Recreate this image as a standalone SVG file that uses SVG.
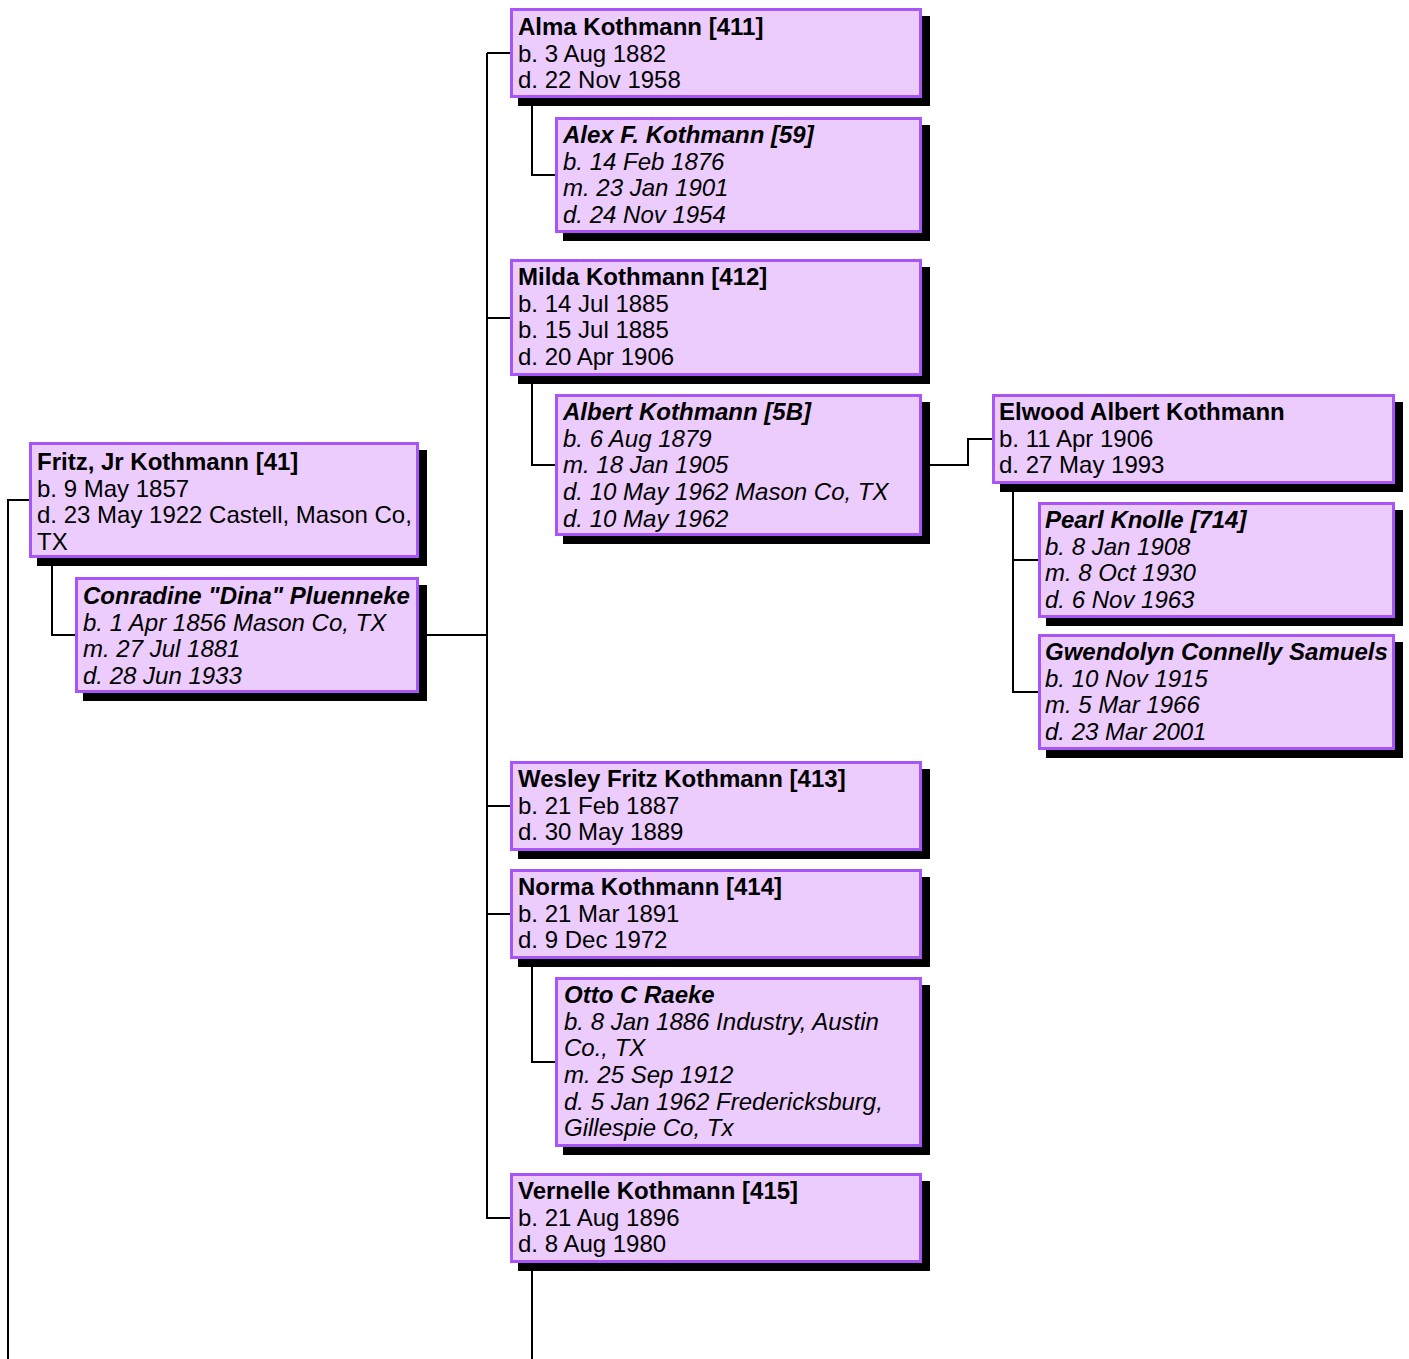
<svg xmlns="http://www.w3.org/2000/svg" width="1409" height="1359" viewBox="0 0 1409 1359">
<style>
.sh{fill:#000}
.bx{fill:#ECCCFC;stroke:#A855F7;stroke-width:3}
text{font-family:"Liberation Sans",Arial,sans-serif;font-size:24px;fill:#000}
.n{font-weight:bold}
.sp{font-style:italic}
.c{fill:none;stroke:#000;stroke-width:2}
</style>
<rect width="1409" height="1359" fill="#fff"/>
<g id="connectors">
<path class="c" d="M30 500H8V1359"/>
<path class="c" d="M52 558V635H75"/>
<path class="c" d="M419 635H487"/>
<path class="c" d="M487 53V1219"/>
<path class="c" d="M487 53H510M487 318H510M487 806H510M487 914H510M487 1218H510"/>
<path class="c" d="M532 98V175H555"/>
<path class="c" d="M532 376V465H555"/>
<path class="c" d="M922 465H968V439H992"/>
<path class="c" d="M1013 484V692H1038M1013 560H1038"/>
<path class="c" d="M532 959V1062H555"/>
<path class="c" d="M532 1263V1359"/>
</g>
<g id="fritz">
<rect class="sh" x="37" y="450" width="390" height="116"/>
<rect class="bx" x="30.5" y="443.5" width="387" height="113"/>
<text x="37" y="470"><tspan class="n">Fritz, Jr Kothmann [41]</tspan><tspan x="37" dy="26.67">b. 9 May 1857</tspan><tspan x="37" dy="26.67">d. 23 May 1922 Castell, Mason Co,</tspan><tspan x="37" dy="26.67">TX</tspan></text>
</g>
<g id="conradine">
<rect class="sh" x="83" y="585" width="344" height="116"/>
<rect class="bx" x="76.5" y="578.5" width="341" height="113"/>
<text class="sp" x="83" y="604"><tspan class="n">Conradine "Dina" Pluenneke</tspan><tspan x="83" dy="26.67">b. 1 Apr 1856 Mason Co, TX</tspan><tspan x="83" dy="26.67">m. 27 Jul 1881</tspan><tspan x="83" dy="26.67">d. 28 Jun 1933</tspan></text>
</g>
<g id="alma">
<rect class="sh" x="518" y="16" width="412" height="90"/>
<rect class="bx" x="511.5" y="9.5" width="409" height="87"/>
<text x="518" y="35"><tspan class="n">Alma Kothmann [411]</tspan><tspan x="518" dy="26.67">b. 3 Aug 1882</tspan><tspan x="518" dy="26.67">d. 22 Nov 1958</tspan></text>
</g>
<g id="alex">
<rect class="sh" x="563" y="125" width="367" height="116"/>
<rect class="bx" x="556.5" y="118.5" width="364" height="113"/>
<text class="sp" x="563" y="143"><tspan class="n">Alex F. Kothmann [59]</tspan><tspan x="563" dy="26.67">b. 14 Feb 1876</tspan><tspan x="563" dy="26.67">m. 23 Jan 1901</tspan><tspan x="563" dy="26.67">d. 24 Nov 1954</tspan></text>
</g>
<g id="milda">
<rect class="sh" x="518" y="267" width="412" height="117"/>
<rect class="bx" x="511.5" y="260.5" width="409" height="114"/>
<text x="518" y="285"><tspan class="n">Milda Kothmann [412]</tspan><tspan x="518" dy="26.67">b. 14 Jul 1885</tspan><tspan x="518" dy="26.67">b. 15 Jul 1885</tspan><tspan x="518" dy="26.67">d. 20 Apr 1906</tspan></text>
</g>
<g id="albert">
<rect class="sh" x="563" y="402" width="367" height="142"/>
<rect class="bx" x="556.5" y="395.5" width="364" height="139"/>
<text class="sp" x="563" y="420"><tspan class="n">Albert Kothmann [5B]</tspan><tspan x="563" dy="26.67">b. 6 Aug 1879</tspan><tspan x="563" dy="26.67">m. 18 Jan 1905</tspan><tspan x="563" dy="26.67">d. 10 May 1962 Mason Co, TX</tspan><tspan x="563" dy="26.67">d. 10 May 1962</tspan></text>
</g>
<g id="elwood">
<rect class="sh" x="1000" y="402" width="403" height="90"/>
<rect class="bx" x="993.5" y="395.5" width="400" height="87"/>
<text x="999" y="420"><tspan class="n">Elwood Albert Kothmann</tspan><tspan x="999" dy="26.67">b. 11 Apr 1906</tspan><tspan x="999" dy="26.67">d. 27 May 1993</tspan></text>
</g>
<g id="pearl">
<rect class="sh" x="1046" y="510" width="357" height="116"/>
<rect class="bx" x="1039.5" y="503.5" width="354" height="113"/>
<text class="sp" x="1045" y="528"><tspan class="n">Pearl Knolle [714]</tspan><tspan x="1045" dy="26.67">b. 8 Jan 1908</tspan><tspan x="1045" dy="26.67">m. 8 Oct 1930</tspan><tspan x="1045" dy="26.67">d. 6 Nov 1963</tspan></text>
</g>
<g id="gwendolyn">
<rect class="sh" x="1046" y="642" width="357" height="116"/>
<rect class="bx" x="1039.5" y="635.5" width="354" height="113"/>
<text class="sp" x="1045" y="660"><tspan class="n">Gwendolyn Connelly Samuels</tspan><tspan x="1045" dy="26.67">b. 10 Nov 1915</tspan><tspan x="1045" dy="26.67">m. 5 Mar 1966</tspan><tspan x="1045" dy="26.67">d. 23 Mar 2001</tspan></text>
</g>
<g id="wesley">
<rect class="sh" x="518" y="769" width="412" height="90"/>
<rect class="bx" x="511.5" y="762.5" width="409" height="87"/>
<text x="518" y="787"><tspan class="n">Wesley Fritz Kothmann [413]</tspan><tspan x="518" dy="26.67">b. 21 Feb 1887</tspan><tspan x="518" dy="26.67">d. 30 May 1889</tspan></text>
</g>
<g id="norma">
<rect class="sh" x="518" y="877" width="412" height="90"/>
<rect class="bx" x="511.5" y="870.5" width="409" height="87"/>
<text x="518" y="895"><tspan class="n">Norma Kothmann [414]</tspan><tspan x="518" dy="26.67">b. 21 Mar 1891</tspan><tspan x="518" dy="26.67">d. 9 Dec 1972</tspan></text>
</g>
<g id="otto">
<rect class="sh" x="563" y="985" width="367" height="170"/>
<rect class="bx" x="556.5" y="978.5" width="364" height="167"/>
<text class="sp" x="564" y="1003"><tspan class="n">Otto C Raeke</tspan><tspan x="564" dy="26.67">b. 8 Jan 1886 Industry, Austin</tspan><tspan x="564" dy="26.67">Co., TX</tspan><tspan x="564" dy="26.67">m. 25 Sep 1912</tspan><tspan x="564" dy="26.67">d. 5 Jan 1962 Fredericksburg,</tspan><tspan x="564" dy="26.67">Gillespie Co, Tx</tspan></text>
</g>
<g id="vernelle">
<rect class="sh" x="518" y="1181" width="412" height="90"/>
<rect class="bx" x="511.5" y="1174.5" width="409" height="87"/>
<text x="518" y="1199"><tspan class="n">Vernelle Kothmann [415]</tspan><tspan x="518" dy="26.67">b. 21 Aug 1896</tspan><tspan x="518" dy="26.67">d. 8 Aug 1980</tspan></text>
</g>
</svg>
